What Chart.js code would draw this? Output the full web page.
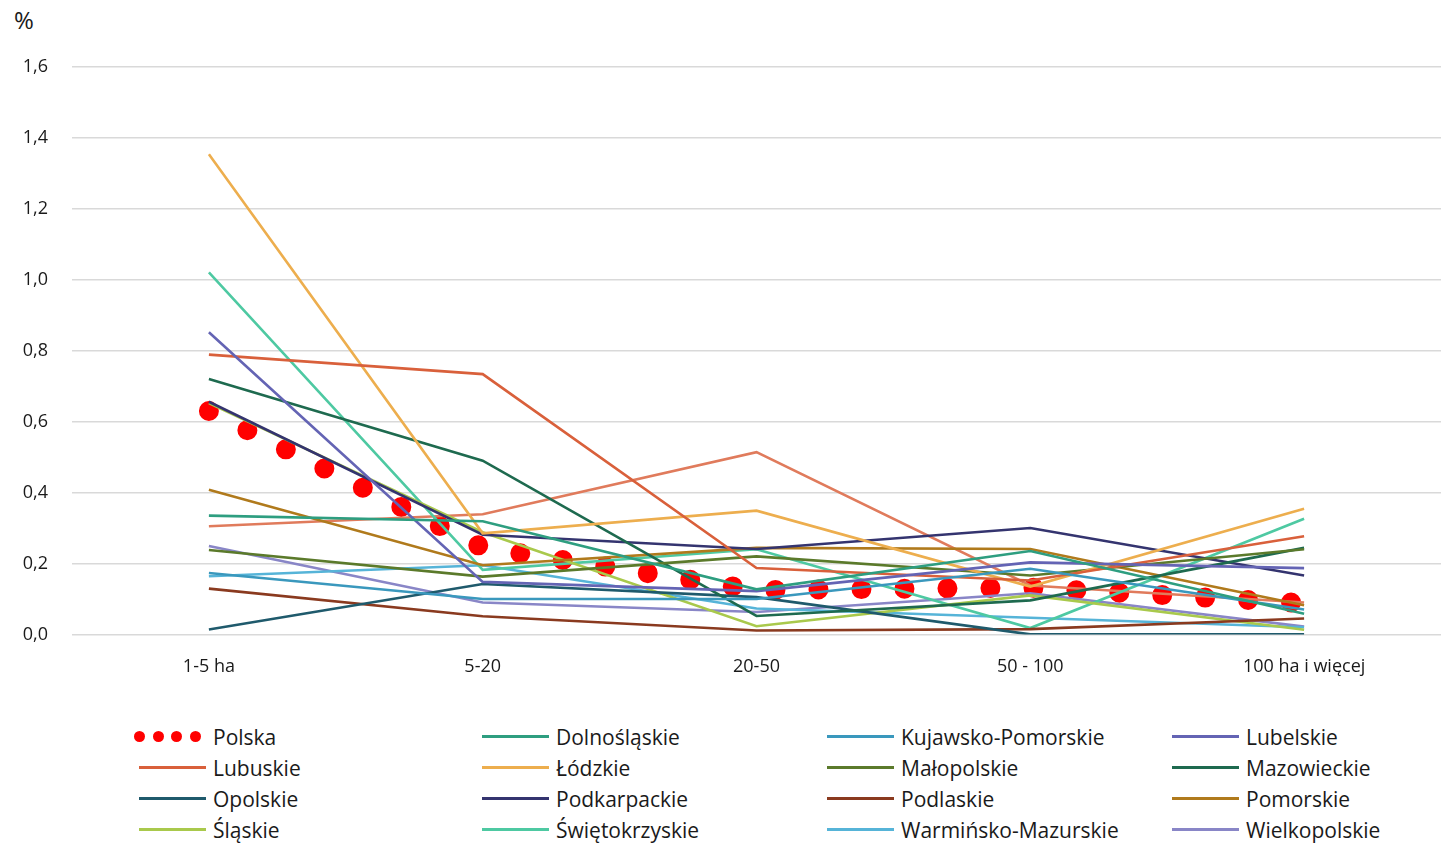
<!DOCTYPE html>
<html>
<head>
  <meta charset="utf-8">
  <title>Udział gospodarstw wg grup obszarowych</title>
  <script src="https://cdn.jsdelivr.net/npm/chart.js"></script>
  <style>
    body { margin: 0; background: #fff; font-family: "Open Sans", sans-serif; color: #1a1a1a; }
    #wrap { position: relative; width: 1441px; height: 843px; }
    #unit { position: absolute; left: 14px; top: 3px; font-size: 24px; }
    #chartBox { position: absolute; left: 0; top: 0; width: 1441px; height: 705px; }
    #legend { position: absolute; left: 139px; top: 721px; display: grid;
      grid-template-columns: 343px 345px 345px 300px; grid-auto-rows: 31px; font-size: 21px; }
    .item { display: flex; align-items: center; }
    .swatch { width: 67px; height: 3px; margin-right: 7px; }
    .dots { width: 67px; display: flex; justify-content: space-between; margin-left: -5px; margin-right: 12px; }
    .dots span { width: 11px; height: 11px; border-radius: 50%; background: #ff0000; }
  </style>
</head>
<body>
<div id="wrap">
  <div id="unit">%</div>
  <div id="chartBox"><canvas id="chart"></canvas></div>
  <div id="legend"></div>
</div>
<script>
  const categories = ['1-5 ha', '5-20', '20-50', '50 - 100', '100 ha i więcej'];

  // wartości w %
  const polska = [0.63, 0.245, 0.125, 0.132, 0.088];
  const dolnoslaskie = [0.335, 0.319, 0.127, 0.235, 0.058];
  const kujawskoPomorskie = [0.173, 0.100, 0.100, 0.185, 0.070];
  const lubelskie = [0.852, 0.148, 0.122, 0.203, 0.187];
  const lubuskie = [0.789, 0.734, 0.187, 0.152, 0.277];
  const lodzkie = [1.354, 0.285, 0.349, 0.135, 0.354];
  const malopolskie = [0.238, 0.163, 0.220, 0.166, 0.240];
  const mazowieckie = [0.720, 0.490, 0.052, 0.096, 0.244];
  const opolskie = [0.014, 0.142, 0.105, 0.0, 0.0];
  const podkarpackie = [0.656, 0.281, 0.241, 0.300, 0.166];
  const podlaskie = [0.129, 0.051, 0.011, 0.015, 0.045];
  const pomorskie = [0.408, 0.195, 0.244, 0.241, 0.082];
  const slaskie = [0.652, 0.288, 0.023, 0.110, 0.013];
  const swietokrzyskie = [1.021, 0.182, 0.240, 0.018, 0.326];
  const warminskoMazurskie = [0.164, 0.195, 0.073, 0.047, 0.020];
  const wielkopolskie = [0.249, 0.090, 0.063, 0.116, 0.022];
  const zachodniopomorskie = [0.305, 0.339, 0.514, 0.138, 0.090];

  const series = [
    ['Polska', polska, '#ff0000', true],
    ['Dolnośląskie', dolnoslaskie, '#2e9e80', true],
    ['Kujawsko-Pomorskie', kujawskoPomorskie, '#3a98bd', true],
    ['Lubelskie', lubelskie, '#6464b4', true],
    ['Lubuskie', lubuskie, '#d9603b', true],
    ['Łódzkie', lodzkie, '#edae4e', true],
    ['Małopolskie', malopolskie, '#5b7a2b', true],
    ['Mazowieckie', mazowieckie, '#1e6a4f', true],
    ['Opolskie', opolskie, '#1f5a6c', true],
    ['Podkarpackie', podkarpackie, '#34346f', true],
    ['Podlaskie', podlaskie, '#8a3a1f', true],
    ['Pomorskie', pomorskie, '#b07a1c', true],
    ['Śląskie', slaskie, '#a9c94c', true],
    ['Świętokrzyskie', swietokrzyskie, '#4ec9a2', true],
    ['Warmińsko-Mazurskie', warminskoMazurskie, '#56b4d8', true],
    ['Wielkopolskie', wielkopolskie, '#8986c7', true],
    ['Zachodniopomorskie', zachodniopomorskie, '#e07b5c', false]
  ];

  const datasets = series.map(([name, values, color]) => {
    if (name === 'Polska') {
      return {
        label: name, data: values, borderColor: color, borderWidth: 20,
        borderDash: [0, 43], borderCapStyle: 'round', pointRadius: 0,
        tension: 0, order: 1
      };
    }
    return {
      label: name, data: values, borderColor: color, borderWidth: 2.6,
      pointRadius: 0, tension: 0, order: 0
    };
  });

  new Chart(document.getElementById('chart'), {
    type: 'line',
    data: { labels: categories, datasets: datasets },
    options: {
      responsive: true,
      maintainAspectRatio: false,
      animation: false,
      layout: { padding: { top: 67, right: 0, bottom: 13, left: 0 } },
      plugins: { legend: { display: false }, tooltip: { enabled: false } },
      scales: {
        x: {
          offset: true,
          grid: { display: false },
          border: { display: false },
          ticks: { color: '#1a1a1a', font: { family: 'Open Sans', size: 18 }, padding: 14, maxRotation: 0 }
        },
        y: {
          min: 0, max: 1.6,
          afterFit: scale => { scale.width = 72; },
          grid: { color: '#d9d9d9', lineWidth: 1.5, drawTicks: false },
          border: { display: false },
          ticks: {
            stepSize: 0.2, padding: 24, color: '#1a1a1a',
            font: { family: 'Open Sans', size: 18 },
            callback: v => v.toFixed(1).replace('.', ',')
          }
        }
      }
    }
  });

  // legenda HTML w 4 kolumnach
  const legend = document.getElementById('legend');
  series.filter(s => s[3]).forEach(([name, , color]) => {
    const item = document.createElement('div');
    item.className = 'item';
    if (name === 'Polska') {
      item.innerHTML = '<div class="dots"><span></span><span></span><span></span><span></span></div>';
    } else {
      item.innerHTML = '<div class="swatch" style="background:' + color + '"></div>';
    }
    const label = document.createElement('span');
    label.textContent = name;
    item.appendChild(label);
    legend.appendChild(item);
  });
</script>
</body>
</html>
